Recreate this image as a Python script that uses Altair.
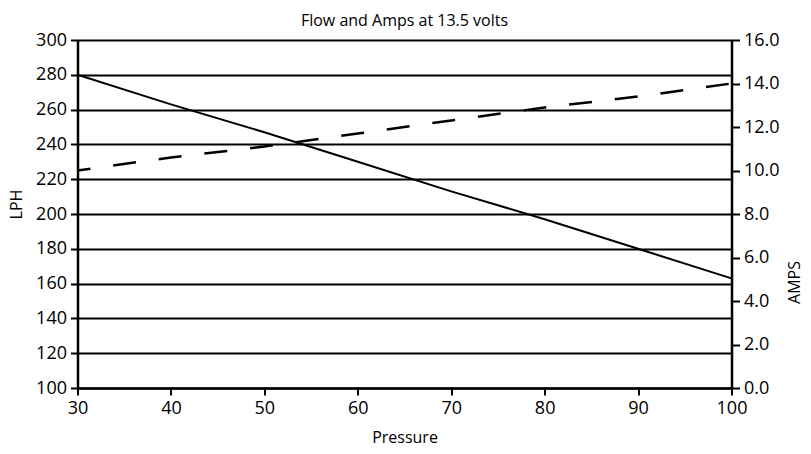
import altair as alt
import pandas as pd

pressure = [30, 40, 50, 60, 70, 80, 90, 100]
flow_lph = [280, 263, 247, 230, 213, 197, 180, 163]
amps = [10.0, 10.6, 11.1, 11.7, 12.3, 12.9, 13.4, 14.0]
lph_ticks = [100, 120, 140, 160, 180, 200, 220, 240, 260, 280, 300]
amp_ticks = [0, 2, 4, 6, 8, 10, 12, 14, 16]
x_ticks = [30, 40, 50, 60, 70, 80, 90, 100]

df = pd.DataFrame({"Pressure": pressure, "LPH": flow_lph, "AMPS": amps})

FONT = "Open Sans"

base = alt.Chart(df).encode(
    x=alt.X("Pressure:Q",
            scale=alt.Scale(domain=[30, 100], nice=False, zero=False),
            axis=alt.Axis(values=x_ticks, title="Pressure", grid=False,
                          tickSize=7, tickWidth=2, tickColor="black",
                          domainColor="black", domainWidth=2.5,
                          labelFontSize=18, labelFont=FONT, labelColor="black",
                          labelPadding=4, labelFlush=False,
                          titleFontSize=16, titleFont=FONT, titleFontWeight="normal",
                          titleColor="black", titleBaseline="middle", titleY=49))
)

flow = base.mark_line(color="black", strokeWidth=2).encode(
    y=alt.Y("LPH:Q",
            scale=alt.Scale(domain=[100, 300], nice=False, zero=False),
            axis=alt.Axis(values=lph_ticks, title="LPH", orient="left",
                          grid=True, gridColor="black", gridWidth=2, gridOpacity=1,
                          tickSize=7, tickWidth=2, tickColor="black",
                          domainColor="black", domainWidth=2.5,
                          labelFontSize=18, labelFont=FONT, labelColor="black",
                          labelPadding=4,
                          titleFontSize=16, titleFont=FONT, titleFontWeight="normal",
                          titleColor="black", titleBaseline="middle", titleAngle=270,
                          titleX=-61, titleY=164))
)

amp_line = base.mark_line(color="black", strokeWidth=2.5, strokeDash=[23, 23],
                          strokeDashOffset=10).encode(
    y=alt.Y("AMPS:Q",
            scale=alt.Scale(domain=[0, 16], nice=False, zero=False),
            axis=alt.Axis(values=amp_ticks, title="AMPS", orient="right", format=".1f",
                          grid=False,
                          tickSize=8, tickWidth=2, tickColor="black",
                          domainColor="black", domainWidth=2.5,
                          labelFontSize=18, labelFont=FONT, labelColor="black",
                          labelPadding=4,
                          titleFontSize=16, titleFont=FONT, titleFontWeight="normal",
                          titleColor="black", titleBaseline="middle", titleAngle=270,
                          titleX=63, titleY=242))
)

chart = alt.layer(flow, amp_line).resolve_scale(y="independent").properties(
    width=654, height=348,
    title=alt.TitleParams("Flow and Amps at 13.5 volts", font=FONT, fontSize=16,
                          fontWeight="normal", color="black", anchor="middle",
                          baseline="alphabetic", offset=0, dy=11),
    autosize=alt.AutoSizeParams(type="none"),
    padding={"left": 69.5, "top": 32, "right": 71.5, "bottom": 58},
).configure_view(stroke=None)

chart.save("out.html", embed_options={"renderer": "svg", "actions": False})
